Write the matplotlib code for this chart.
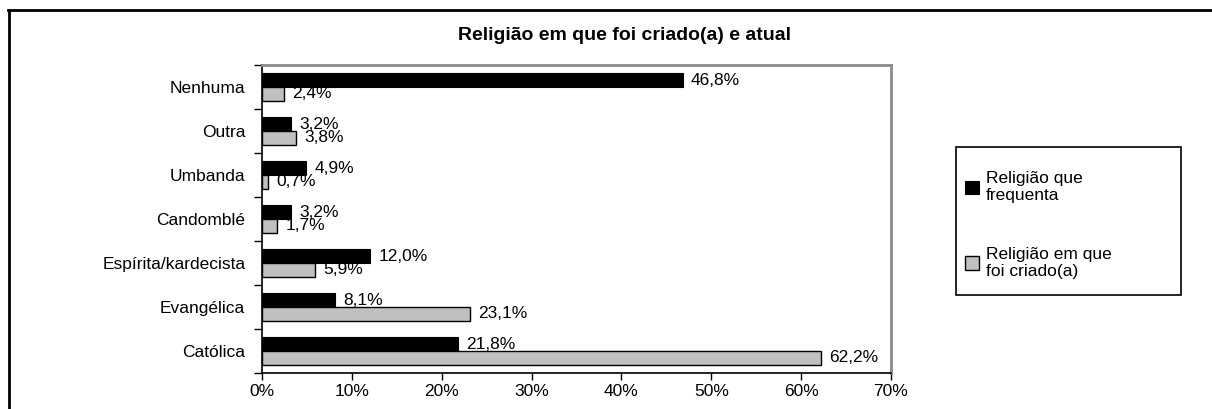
import numpy as np
import matplotlib
matplotlib.use("Agg")
import matplotlib.pyplot as plt
from matplotlib.lines import Line2D
from matplotlib.patches import Rectangle
from matplotlib.ticker import FuncFormatter

# dados (de baixo para cima)
categorias = ["Católica", "Evangélica", "Espírita/kardecista", "Candomblé",
              "Umbanda", "Outra", "Nenhuma"]
frequenta = [21.8, 8.1, 12.0, 3.2, 4.9, 3.2, 46.8]
criado = [62.2, 23.1, 5.9, 1.7, 0.7, 3.8, 2.4]
xticks = [0, 10, 20, 30, 40, 50, 60, 70]

plt.rcParams['font.family'] = ['Liberation Sans', 'DejaVu Sans']
FS = 12.5

W, H = 1212, 409
fig = plt.figure(figsize=(W / 100, H / 100), dpi=100)
fig.patch.set_facecolor("white")

ax = fig.add_axes([262 / W, 1 - 373 / H, (891 - 262) / W, (373 - 65) / H])

y = np.arange(len(categorias))
h = 0.31
ax.barh(y + h / 2, frequenta, height=h, color="black", edgecolor="black",
        linewidth=0.8, label="Religião que\nfrequenta")
ax.barh(y - h / 2, criado, height=h, color="#c0c0c0", edgecolor="black",
        linewidth=1.0, label="Religião em que\nfoi criado(a)")

def rotulo(v):
    return f"{v:.1f}".replace(".", ",") + "%"

for yi, v in zip(y, frequenta):
    ax.annotate(rotulo(v), (v, yi + h / 2), xytext=(6, 0), textcoords="offset points",
                va="center", ha="left", fontsize=FS)
for yi, v in zip(y, criado):
    ax.annotate(rotulo(v), (v, yi - h / 2), xytext=(6, 0), textcoords="offset points",
                va="center", ha="left", fontsize=FS)

ax.set_xlim(0, 70)
ax.set_ylim(-0.5, len(categorias) - 0.5)
ax.set_xticks(xticks)
ax.xaxis.set_major_formatter(FuncFormatter(lambda v, p: f"{v:.0f}%"))
ax.tick_params(axis="x", length=5, width=1, labelsize=FS, pad=3)

ax.set_yticks(np.arange(-0.5, len(categorias), 1.0))
ax.set_yticklabels([])
ax.set_yticks(y, minor=True)
ax.set_yticklabels(categorias, minor=True)
ax.tick_params(axis="y", which="major", length=6, width=1)
ax.tick_params(axis="y", which="minor", length=0, labelsize=FS, pad=12)

for s in ["left", "bottom"]:
    ax.spines[s].set_color("black")
    ax.spines[s].set_linewidth(1.2)
for s in ["top", "right"]:
    ax.spines[s].set_color("#8c8c8c")
    ax.spines[s].set_linewidth(2)

fig.text(0.515, 1 - 35 / H, "Religião em que foi criado(a) e atual",
         ha="center", va="center", fontsize=14, fontweight="bold")

# legenda: caixa desenhada à parte
fig.add_artist(Rectangle((956 / W, 1 - 295 / H), 225 / W, 148 / H,
                         transform=fig.transFigure, facecolor="white",
                         edgecolor="black", linewidth=1.2))
leg = fig.legend(loc="upper left", bbox_to_anchor=(965 / W, 1 - 171 / H),
                 fontsize=FS, frameon=False,
                 handlelength=0.8, handleheight=0.8, handletextpad=0.4,
                 labelspacing=2.5, borderpad=0, borderaxespad=0)

# moldura externa
fig.add_artist(Line2D([8 / W, 1], [1 - 10 / H, 1 - 10 / H], color="black", lw=2,
                      transform=fig.transFigure))
fig.add_artist(Line2D([8.5 / W, 8.5 / W], [0, 1 - 10 / H], color="black", lw=2,
                      transform=fig.transFigure))

fig.savefig("out.png", dpi=100)
